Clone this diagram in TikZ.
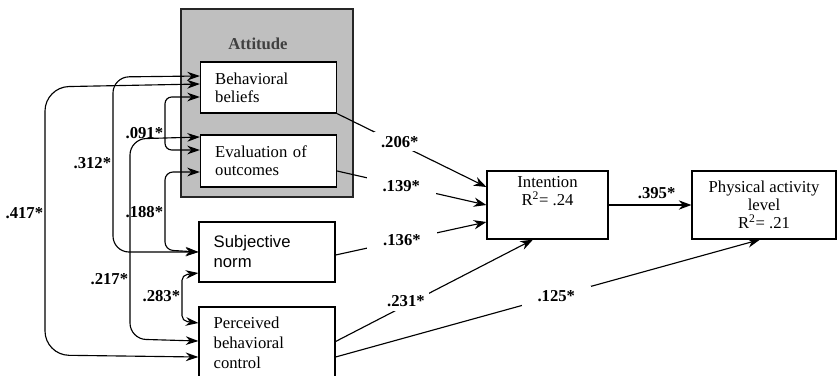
\documentclass[tikz,border=0pt]{standalone}
\usepackage{fontspec}
\setmainfont{Liberation Serif}
\setsansfont{Liberation Sans}
\usetikzlibrary{arrows.meta,calc}
\tikzset{
    model panel/.style={font=\fontsize{12.5}{13.5}\selectfont},
    box/.style={draw, line width=0.9pt, fill=white, align=center},
    belief/.style={box, align=left, text width=80pt, inner xsep=11pt},
    group/.style={draw=black!85, line width=1.5pt, fill=black!25},
    flow/.style={-{Stealth[length=9.5pt, width=7pt]}, line width=0.85pt},
    corr/.style={{Stealth[length=9.5pt, width=6.5pt]}-{Stealth[length=9.5pt, width=6.5pt]},
                 line width=0.85pt},
    coef/.style={font=\fontsize{12.5}{13.5}\selectfont\bfseries, inner sep=1pt},
    coefgap/.style={coef, fill=white, inner ysep=3pt},
}

\begin{document}
\begin{tikzpicture}[x=0.75pt, y=-0.75pt, model panel]
    \useasboundingbox (0,0) rectangle (837,375);

    \node[group, minimum width=129pt, minimum height=141pt] (attitude) at (267,103) {};
    \node[coef, text=black!75] (attlabel) at (258,44) {Attitude};
    \node[belief, minimum height=38.25pt] (beliefs) at (268.5,87.5) {Behavioral\\beliefs};
    \node[belief, minimum height=39pt] (outcomes) at (268.5,161) {Evaluation of\\outcomes};
    \node[belief, minimum height=45pt, font=\sffamily\fontsize{12.5}{15}\selectfont] (norm) at (267,252) {Subjective\\norm};
    \node[belief, minimum height=53.25pt, font=\fontsize{12.5}{15}\selectfont] (control) at (267,342.5) {Perceived\\behavioral\\control};
    \node[box, minimum width=90.75pt, minimum height=51pt] (intention) at (547.5,205) {};
    \node[align=center, inner sep=0pt] (intentiontext) at (547.5,191) {Intention\\R\textsuperscript{2}= .24};
    \node[box, minimum width=108pt, minimum height=51pt] (activity) at (764,205) {Physical activity\\level\\R\textsuperscript{2}= .21};

    \draw[corr, rounded corners=5pt] ($(beliefs.west)+(0,9.5)$) -- (165,97)
        -- node[coef, pos=0.68, anchor=east] {.091*} (165,150) -- ($(outcomes.west)+(0,-11)$);
    \draw[corr, rounded corners=12pt] ($(beliefs.west)+(0,-11.5)$) -- (113,77)
        -- node[coef, pos=0.49, anchor=east] {.312*} (113,252) -- (norm.west);
    \draw[corr, rounded corners=18pt] ($(beliefs.west)+(0,-3.5)$) -- (45,87)
        -- node[coef, pos=0.47, anchor=east] {.417*} (45,355) -- ($(control.west)+(0,14.5)$);
    \draw[corr, rounded corners=6pt] ($(outcomes.west)+(0,11)$) -- (165,172)
        -- node[coef, pos=0.51, anchor=east] {.188*} (165,250) -- (norm.west);
    \draw[corr, rounded corners=12pt] ($(outcomes.west)+(0,-24)$) -- (130,139)
        -- node[coef, pos=0.7, anchor=east] {.217*} (130,339) -- ($(control.west)+(0,-1.5)$);
    \draw[corr, rounded corners=4pt] ($(norm.west)+(0,21)$) -- (182,275)
        -- node[coef, pos=0.46, anchor=east] {.283*} (182,321) -- ($(control.west)+(0,-19.5)$);

    \draw[flow] (beliefs.south east) -- node[coefgap, pos=0.42, yshift=2pt, inner xsep=5pt] {.206*} ($(intention.west)+(0,-18)$);
    \draw[flow] ($(outcomes.east)+(0,10)$) -- node[coefgap, pos=0.43, inner xsep=12pt] {.139*} (intention.west);
    \draw[flow] ($(norm.east)+(0,3)$) -- node[coefgap, pos=0.44, inner xsep=12pt] {.136*} ($(intention.west)+(0,17)$);
    \draw[flow] ($(control.east)+(0,-1)$) -- node[coefgap, pos=0.37, xshift=-2pt, yshift=2pt, inner xsep=3pt] {.231*} ($(intention.south)+(-14.5,0)$);
    \draw[flow] ($(control.east)+(0,14.5)$) -- node[coefgap, pos=0.52, inner xsep=12pt] {.125*} ($(activity.south)+(-4,0)$);
    \draw[flow] (intention.east) -- node[coef, pos=0.58, above=3pt] {.395*} (activity.west);

\end{tikzpicture}
\end{document}
